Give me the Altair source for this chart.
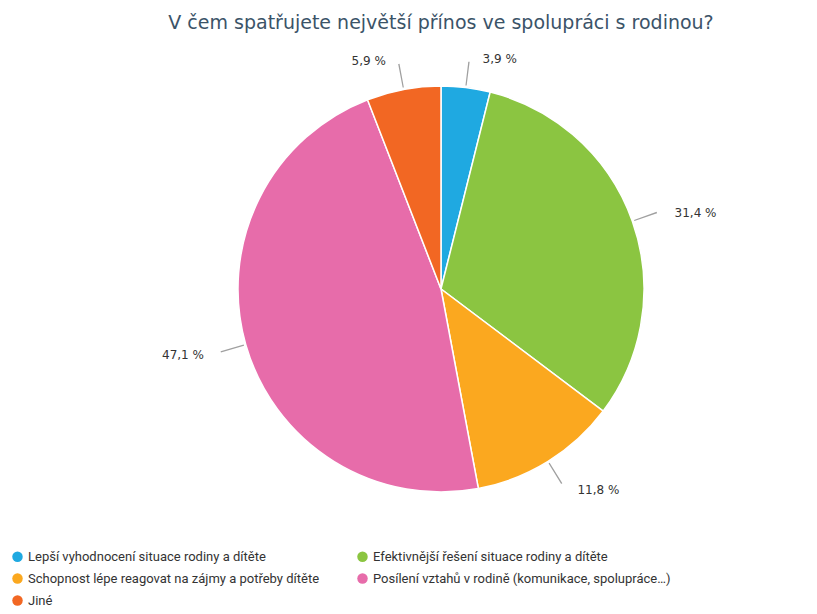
import altair as alt
import pandas as pd

categories = [
    "Lepší vyhodnocení situace rodiny a dítěte",
    "Efektivnější řešení situace rodiny a dítěte",
    "Schopnost lépe reagovat na zájmy a potřeby dítěte",
    "Posílení vztahů v rodině (komunikace, spolupráce…)",
    "Jiné",
]
values = [3.9, 31.4, 11.8, 47.1, 5.9]
colors = ["#1fa9e1", "#8bc541", "#fba81f", "#e76caa", "#f26723"]
labels = [f"{v:.1f}".replace(".", ",") + " %" for v in values]

df = pd.DataFrame({"cat": categories, "val": values, "idx": list(range(len(values))), "label": labels})

base = (
    alt.Chart(df)
    .transform_window(cum="sum(val)", sort=[alt.SortField("idx")], frame=[None, 0])
    .transform_joinaggregate(total="sum(val)")
    .transform_calculate(start="2*PI*(datum.cum-datum.val)/datum.total")
    .transform_calculate(end="2*PI*datum.cum/datum.total")
    .transform_calculate(mid="(datum.start+datum.end)/2")
)

pie = base.mark_arc(outerRadius=203, stroke="white", strokeWidth=1.5).encode(
    theta=alt.Theta("start:Q", scale=None, stack=None),
    theta2="end:Q",
    color=alt.Color(
        "cat:N",
        scale=alt.Scale(domain=categories, range=colors),
        legend=alt.Legend(
            title=None,
            orient="none",
            legendX=-63,
            legendY=492,
            columns=2,
            direction="horizontal",
            symbolType="circle",
            symbolSize=110,
            symbolStrokeWidth=0,
            labelFont="Roboto",
            labelFontSize=13,
            labelColor="#333333",
            labelLimit=400,
            rowPadding=8,
            columnPadding=30,
            gridAlign="all",
        ),
    ),
)

leaders = (
    base.transform_calculate(t1="datum.mid-0.003")
    .transform_calculate(t2="datum.mid+0.003")
    .mark_arc(radius=229, radius2=205, color="#a0a0a0")
    .encode(theta=alt.Theta("t1:Q", scale=None, stack=None), theta2="t2:Q")
)

right_labels = (
    base.transform_filter("datum.mid < PI")
    .mark_text(radius=234, align="left", baseline="middle", dx=13, dy=2,
               font="DejaVu Sans", fontSize=12, color="#333333")
    .encode(theta=alt.Theta("mid:Q", scale=None, stack=None), text="label:N")
)

left_labels = (
    base.transform_filter("datum.mid >= PI")
    .mark_text(radius=234, align="right", baseline="middle", dx=-12, dy=2,
               font="DejaVu Sans", fontSize=12, color="#333333")
    .encode(theta=alt.Theta("mid:Q", scale=None, stack=None), text="label:N")
)

chart = (
    alt.layer(pie, leaders, right_labels, left_labels)
    .properties(
        width=734,
        height=462,
        autosize=alt.AutoSizeParams(type="none"),
        padding={"left": 66, "top": 50, "right": 0, "bottom": 86},
        title=alt.TitleParams(
            "V čem spatřujete největší přínos ve spolupráci s rodinou?",
            font="DejaVu Sans",
            fontSize=19,
            fontWeight="normal",
            color="#3b5368",
            anchor="middle",
            offset=20,
        ),
    )
    .configure_view(stroke=None)
)

chart.save("out.html", embed_options={"renderer": "svg", "actions": False})
